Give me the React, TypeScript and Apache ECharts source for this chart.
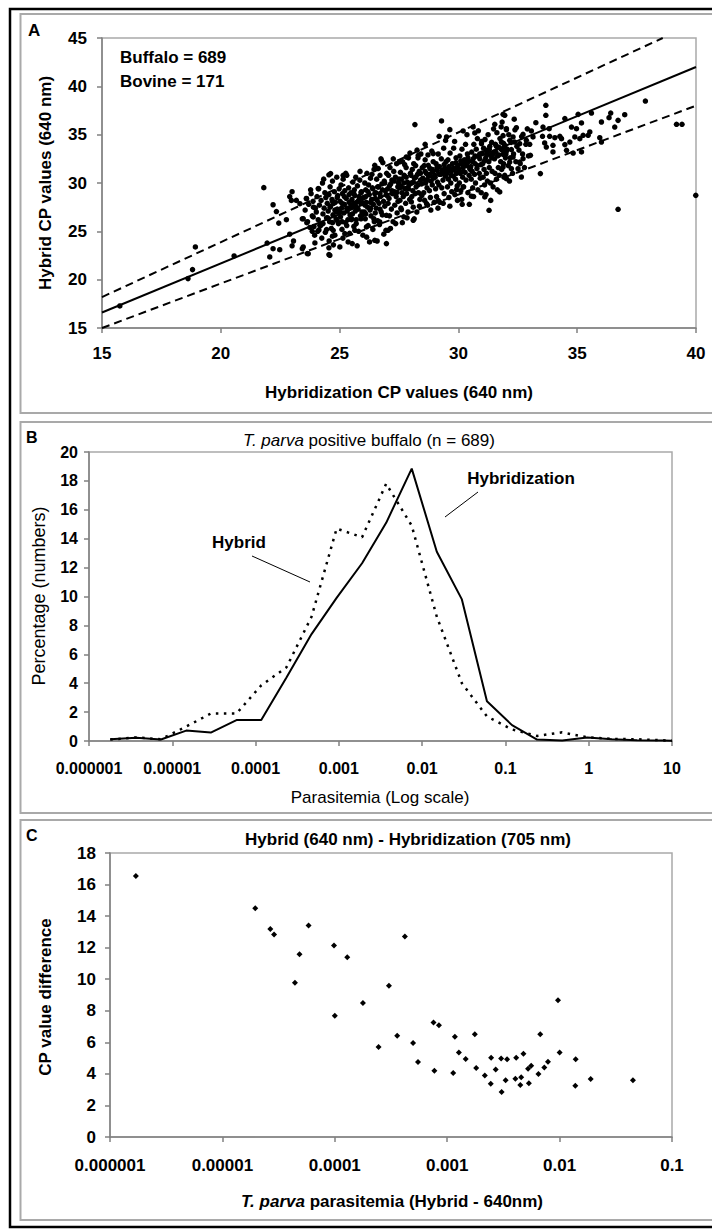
import React, { useEffect, useRef } from "react";
import * as echarts from "echarts";

// ---------- Panel A: Hybrid CP vs Hybridization CP (640 nm) ----------
const aPoints: number[][] = [
  // sparse low end
  [15.75, 17.28], [18.62, 20.11], [18.81, 21.04], [18.93, 23.38], [20.56, 22.45], [21.81, 29.52],
  [21.95, 23.79], [22.06, 22.35], [22.2, 23.2], [22.48, 23.1], [22.2, 27.75], [22.34, 27.05],
  [22.44, 25.85], [22.76, 26.2], [22.9, 28.6], [23.0, 29.1], [22.97, 28.2], [23.18, 28.2],
  [23.0, 23.5], [23.06, 24.0], [22.9, 24.7], [23.43, 23.2], [23.64, 22.7], [23.43, 26.3],
  [23.85, 25.0], [23.92, 25.5], [24.13, 25.15], [24.55, 22.6], [24.55, 23.3], [24.7, 24.5],
  [24.55, 30.85], [23.98, 27.4],
  // sparse around the cluster
  [28.17, 36.04], [29.29, 36.42], [24.62, 30.97], [23.61, 28.38], [23.47, 26.31], [23.47, 23.38],
  [23.68, 22.69], [24.59, 22.52], [23.96, 23.8], [25.01, 23.38], [25.53, 23.73], [26.48, 24.07],
  [26.97, 23.73], [28.1, 26.14], [30.16, 27.8], [31.29, 27.18], [31.74, 29.07], [31.11, 28.56],
  [30.55, 28.63], [29.64, 35.52], [29.19, 34.83], [29.5, 34.76], [30.2, 35.38], [30.62, 35.8],
  [30.69, 35.18], [31.88, 37.11], [31.53, 36.07], [32.02, 35.52], [30.97, 34.07], [31.18, 33.38],
  [30.2, 29.59], [29.92, 29.31], [28.66, 27.87], [29.15, 28.21], [26.69, 25.97], [26.13, 25.45],
  [25.64, 25.11], [25.22, 24.76], [24.73, 25.11], [27.04, 25.11], [27.6, 27.24], [26.97, 26.66],
  [26.44, 26.31], [25.99, 26.76], [25.5, 26.31], [24.45, 25.18], [24.17, 25.62], [23.89, 26.49],
  [28.02, 28.04], [26.76, 32.35], [26.48, 31.83], [27.53, 32.18], [27.81, 32.69], [28.31, 32.87],
  [28.94, 33.04], [28.73, 31.83], [25.15, 30.8], [24.1, 29.42], [23.33, 27.86],
  // high end
  [37.87, 38.48], [39.18, 36.07], [39.41, 36.07], [39.99, 28.72], [36.72, 27.28], [33.45, 30.97],
  [33.68, 38.04], [33.68, 37.0], [31.95, 37.0], [32.02, 35.62], [32.44, 35.72], [33.26, 36.24],
  [34.48, 36.66], [35.04, 37.1], [35.6, 37.24], [36.02, 36.31], [36.34, 36.76], [36.41, 37.24],
  [36.72, 36.48], [37.0, 37.07], [36.58, 35.79], [35.95, 34.69], [36.02, 34.24], [35.18, 33.21],
  [34.83, 33.1], [34.55, 33.38], [34.48, 33.97], [34.69, 34.24], [34.9, 34.76], [35.11, 34.59],
  [35.25, 34.93], [35.46, 34.93], [35.53, 35.28], [34.76, 35.79], [35.18, 36.21], [34.97, 35.62],
  [34.34, 34.59], [34.27, 34.83], [34.06, 34.69], [33.98, 33.9], [33.98, 33.21], [33.7, 33.72],
  [33.63, 34.14], [33.84, 34.83], [33.54, 34.83], [33.82, 35.62], [33.56, 35.79], [33.07, 35.38],
  [33.14, 34.76], [33.0, 34.0], [33.03, 32.86], [32.72, 32.52], [32.65, 30.62], [32.51, 31.48],
  [32.58, 32.17], [32.86, 34.41], [32.72, 35.03], [32.58, 34.07], [32.37, 34.24], [32.3, 34.76],
  [32.16, 34.41], [31.95, 33.72], [32.02, 33.31], [32.23, 33.45], [31.88, 32.97], [32.3, 32.69],
  [32.16, 32.17], [31.88, 31.66], [31.95, 30.79], [32.02, 30.45], [32.23, 31.48], [31.81, 34.24],
  // dense band
  [23.55, 27.2], [23.6, 28.4], [23.65, 26.0], [23.7, 27.8], [23.75, 25.4], [23.8, 28.9], [23.85, 26.6], [23.9, 27.5], [23.95, 24.6], [23.62, 25.9], [23.78, 29.3], [23.88, 28.1],
  [24.02, 27.0], [24.05, 28.6], [24.1, 26.2], [24.12, 29.4], [24.15, 27.7], [24.2, 25.6], [24.22, 28.2], [24.28, 30.0], [24.3, 26.8], [24.35, 27.4], [24.38, 29.0], [24.4, 24.9], [24.42, 28.5], [24.45, 26.4], [24.48, 27.9], [24.08, 25.0], [24.25, 24.3], [24.33, 30.4],
  [24.52, 27.1], [24.55, 28.8], [24.58, 26.0], [24.6, 29.6], [24.62, 27.6], [24.65, 25.3], [24.68, 28.3], [24.7, 30.2], [24.72, 26.7], [24.75, 27.9], [24.78, 29.1], [24.8, 24.6], [24.82, 28.0], [24.85, 26.3], [24.88, 30.6], [24.9, 27.3], [24.92, 28.7], [24.95, 25.8], [24.98, 29.4], [24.56, 24.0], [24.74, 23.6], [24.86, 27.0],
  [25.02, 28.1], [25.04, 26.5], [25.06, 29.8], [25.08, 27.4], [25.1, 25.2], [25.12, 28.9], [25.15, 30.4], [25.18, 26.9], [25.2, 27.8], [25.22, 29.2], [25.25, 25.9], [25.28, 28.4], [25.3, 30.8], [25.32, 27.1], [25.35, 26.2], [25.38, 29.5], [25.4, 28.0], [25.42, 24.8], [25.45, 27.5], [25.48, 29.0], [25.14, 24.3], [25.26, 31.0], [25.36, 23.9], [25.44, 26.7],
  [25.52, 28.3], [25.54, 26.8], [25.56, 30.1], [25.58, 27.6], [25.6, 25.5], [25.62, 29.3], [25.64, 28.7], [25.66, 27.1], [25.68, 30.6], [25.7, 26.2], [25.72, 28.0], [25.75, 29.7], [25.78, 27.3], [25.8, 25.0], [25.82, 28.6], [25.85, 30.3], [25.88, 26.6], [25.9, 27.9], [25.92, 29.1], [25.95, 28.4], [25.98, 24.6], [25.6, 27.9], [25.74, 23.5], [25.86, 31.2], [25.94, 27.0],
  [26.02, 28.5], [26.04, 27.0], [26.06, 30.0], [26.08, 26.3], [26.1, 29.3], [26.12, 28.0], [26.15, 31.0], [26.18, 27.5], [26.2, 25.6], [26.22, 29.8], [26.25, 28.8], [26.28, 27.2], [26.3, 30.5], [26.32, 26.6], [26.35, 28.3], [26.38, 29.5], [26.4, 25.2], [26.42, 27.8], [26.45, 31.4], [26.48, 28.9], [26.14, 24.4], [26.26, 23.9], [26.36, 30.9], [26.46, 26.0], [26.07, 27.7],
  [26.52, 29.0], [26.54, 27.4], [26.56, 30.4], [26.58, 28.2], [26.6, 26.1], [26.62, 31.5], [26.64, 29.6], [26.66, 27.9], [26.68, 25.7], [26.7, 30.8], [26.72, 28.6], [26.75, 27.0], [26.78, 29.9], [26.8, 26.7], [26.82, 32.1], [26.85, 28.1], [26.88, 30.2], [26.9, 27.6], [26.92, 29.2], [26.95, 25.1], [26.98, 31.0], [26.58, 24.0], [26.74, 32.5], [26.86, 24.7], [26.96, 28.8],
  [27.02, 29.4], [27.04, 27.9], [27.06, 30.8], [27.08, 28.4], [27.1, 26.6], [27.12, 31.6], [27.15, 29.9], [27.18, 27.3], [27.2, 30.3], [27.22, 28.9], [27.25, 26.0], [27.28, 31.2], [27.3, 29.1], [27.32, 27.7], [27.35, 30.6], [27.38, 28.6], [27.4, 32.0], [27.42, 26.9], [27.45, 29.6], [27.48, 30.0], [27.14, 25.3], [27.26, 32.5], [27.36, 25.8], [27.46, 28.1],
  [27.52, 29.7], [27.54, 28.2], [27.56, 31.1], [27.58, 27.4], [27.6, 30.4], [27.62, 29.0], [27.65, 32.2], [27.68, 28.6], [27.7, 26.5], [27.72, 30.8], [27.75, 29.4], [27.78, 27.9], [27.8, 31.6], [27.82, 28.9], [27.85, 30.1], [27.88, 27.0], [27.9, 32.6], [27.92, 29.8], [27.95, 28.3], [27.98, 31.0], [27.64, 25.9], [27.84, 26.4], [27.96, 33.1], [27.74, 31.9],
  [28.02, 30.0], [28.04, 28.6], [28.06, 31.4], [28.08, 29.2], [28.1, 27.5], [28.12, 32.0], [28.15, 30.5], [28.18, 28.9], [28.2, 31.8], [28.22, 29.6], [28.25, 27.0], [28.28, 30.9], [28.3, 32.6], [28.32, 29.0], [28.35, 31.2], [28.38, 28.3], [28.4, 30.3], [28.42, 33.0], [28.45, 29.9], [28.48, 31.6], [28.14, 26.3], [28.26, 33.4], [28.36, 27.6], [28.46, 28.7],
  [28.52, 30.4], [28.54, 29.0], [28.56, 31.8], [28.58, 28.2], [28.6, 32.4], [28.62, 30.0], [28.65, 31.0], [28.68, 29.5], [28.7, 27.7], [28.72, 32.9], [28.75, 30.7], [28.78, 29.2], [28.8, 31.5], [28.82, 28.5], [28.85, 30.2], [28.88, 33.3], [28.9, 29.8], [28.92, 31.2], [28.95, 30.5], [28.98, 28.0], [28.6, 34.0], [28.84, 27.2], [28.94, 32.2],
  [29.02, 30.6], [29.04, 29.4], [29.06, 32.0], [29.08, 28.6], [29.1, 31.3], [29.12, 30.1], [29.15, 33.0], [29.18, 29.8], [29.2, 31.7], [29.22, 28.0], [29.25, 30.9], [29.28, 32.5], [29.3, 29.5], [29.32, 31.0], [29.35, 30.3], [29.38, 33.6], [29.4, 28.9], [29.42, 31.5], [29.45, 30.7], [29.48, 32.2], [29.14, 27.4], [29.36, 27.9], [29.46, 34.4],
  [29.52, 31.0], [29.54, 29.6], [29.56, 32.4], [29.58, 30.4], [29.6, 28.5], [29.62, 31.6], [29.65, 33.1], [29.68, 30.0], [29.7, 31.2], [29.72, 29.1], [29.75, 32.0], [29.78, 30.7], [29.8, 33.6], [29.82, 31.4], [29.85, 28.8], [29.88, 30.4], [29.9, 32.6], [29.92, 31.0], [29.95, 29.7], [29.98, 31.8], [29.64, 27.6], [29.84, 34.3], [29.96, 28.2],
  [30.02, 31.3], [30.04, 30.0], [30.06, 32.8], [30.08, 31.0], [30.1, 29.2], [30.12, 32.0], [30.15, 33.5], [30.18, 30.6], [30.2, 31.6], [30.22, 29.6], [30.25, 32.4], [30.28, 31.1], [30.3, 34.0], [30.32, 30.3], [30.35, 31.8], [30.38, 33.0], [30.4, 29.0], [30.42, 32.2], [30.45, 30.8], [30.48, 31.5], [30.14, 28.3], [30.36, 35.0], [30.46, 27.8],
  [30.52, 31.7], [30.54, 30.4], [30.56, 33.2], [30.58, 31.2], [30.6, 29.5], [30.62, 32.5], [30.65, 34.0], [30.68, 30.9], [30.7, 32.0], [30.72, 30.0], [30.75, 33.5], [30.78, 31.5], [30.8, 34.6], [30.82, 29.3], [30.85, 32.8], [30.88, 31.0], [30.9, 33.0], [30.92, 30.5], [30.95, 31.9], [30.98, 34.3], [30.64, 28.6], [30.84, 35.4], [30.96, 29.0],
  [31.02, 32.0], [31.04, 30.6], [31.06, 33.6], [31.08, 31.4], [31.1, 29.8], [31.12, 34.5], [31.15, 32.6], [31.18, 31.0], [31.2, 33.2], [31.22, 30.2], [31.25, 35.0], [31.28, 32.2], [31.3, 31.6], [31.32, 33.8], [31.35, 30.0], [31.38, 32.9], [31.4, 34.2], [31.42, 31.2], [31.45, 33.0], [31.48, 35.6], [31.16, 28.8], [31.36, 28.2], [31.46, 29.6],
  [31.52, 32.5], [31.54, 31.0], [31.56, 34.0], [31.58, 33.2], [31.6, 30.4], [31.62, 35.2], [31.65, 32.8], [31.68, 31.6], [31.7, 33.7], [31.72, 30.8], [31.75, 34.6], [31.78, 32.2], [31.8, 35.8], [31.82, 31.4], [31.85, 33.4], [31.88, 34.9], [31.9, 32.0], [31.92, 30.6], [31.95, 33.9], [31.98, 32.6], [31.64, 29.3], [31.84, 36.3],
  [32.05, 33.5], [32.1, 31.8], [32.12, 35.0], [32.18, 32.6], [32.22, 34.2], [32.28, 31.0], [32.32, 33.0], [32.38, 35.5], [32.42, 32.2], [32.46, 33.8], [32.15, 30.2], [32.35, 36.6],
  [32.55, 33.4], [32.6, 32.0], [32.66, 34.8], [32.7, 33.0], [32.78, 31.6], [32.84, 34.0], [32.9, 35.6], [32.95, 32.8],
  // darkest core of the band
  [24.6, 27.5], [24.7, 28.1], [24.8, 27.2], [24.9, 28.5], [25.0, 27.0], [25.1, 27.9], [25.2, 28.6], [25.3, 27.4], [25.4, 28.8], [25.5, 27.7],
  [25.6, 28.9], [25.7, 27.5], [25.8, 28.2], [25.9, 29.0], [26.0, 27.9], [26.1, 28.6], [26.2, 29.1], [26.3, 28.0], [26.4, 29.4], [26.5, 28.4],
  [26.6, 29.6], [26.7, 28.9], [26.8, 29.3], [26.9, 30.0], [27.0, 28.7], [27.1, 29.7], [27.2, 29.2], [27.3, 30.2], [27.4, 29.0], [27.5, 30.4],
  [27.6, 29.6], [27.7, 30.0], [27.8, 30.6], [27.9, 29.4], [28.0, 30.8], [28.1, 30.1], [28.2, 30.6], [28.3, 29.8], [28.4, 31.0], [28.5, 30.5],
  [28.6, 31.2], [28.7, 30.3], [28.8, 30.9], [28.9, 31.4], [29.0, 30.8], [29.1, 31.6], [29.2, 30.9], [29.3, 31.3], [29.4, 31.9], [29.5, 31.2],
  [29.6, 31.7], [29.7, 30.8], [29.8, 31.5], [29.9, 32.1], [30.0, 31.5], [30.1, 32.3], [30.2, 31.2], [30.3, 32.0], [30.4, 32.6], [30.5, 31.4],
  [30.6, 32.2], [30.7, 32.8], [30.8, 31.8], [30.9, 32.5], [31.0, 33.1], [31.1, 32.3], [31.2, 32.9], [31.3, 33.5], [31.4, 32.6], [31.5, 33.2],
  [31.6, 33.8], [31.7, 32.9], [31.8, 33.5], [31.9, 34.1], [32.0, 33.0],
  [24.3, 25.8], [24.5, 26.4], [24.7, 25.9], [24.9, 26.1], [25.1, 26.0], [25.3, 25.6], [25.5, 26.2], [25.7, 25.8], [25.9, 26.3], [26.1, 26.8],
  [26.3, 27.4], [26.5, 26.9], [26.7, 27.3],
];
const aFitLine = [[15, 16.6], [40, 42]];
const aUpperLimit = [[15, 18.2], [38.6, 45]];
const aLowerLimit = [[15, 15], [40, 38]];

// ---------- Panel B: distribution of parasitemia ----------
const bParasitemia = [0.0000018, 0.0000037, 0.0000073, 0.0000147, 0.000029, 0.000059, 0.000117, 0.000235,
  0.00047, 0.00094, 0.0019, 0.0037, 0.0075, 0.015, 0.03, 0.06, 0.12, 0.24, 0.48, 0.96, 1.9, 3.8, 7.7, 10];
const bHybridization = [0.12, 0.22, 0.1, 0.72, 0.58, 1.45, 1.45, 4.4, 7.4, 9.9, 12.3, 15.1, 18.85, 13.1,
  9.8, 2.75, 1.1, 0.1, 0.03, 0.25, 0.12, 0.05, 0.03, 0.02];
const bHybrid = [0.1, 0.25, 0.12, 1.0, 1.9, 1.9, 3.85, 5.1, 8.6, 14.7, 14.1, 17.8, 14.9, 8.6,
  4.0, 1.7, 0.8, 0.35, 0.6, 0.25, 0.15, 0.12, 0.05, 0.02];
const bCutoff = 0.00001;
const bTickLabels = ["0.000001", "0.00001", "0.0001", "0.001", "0.01", "0.1", "1", "10"];

// ---------- Panel C: CP difference vs parasitemia ----------
const cParasitemia = [0.0000017, 0.0000196, 0.0000267, 0.0000288, 0.0000584, 0.0000485, 0.0000442, 0.0000984,
  0.000129, 0.0001, 0.00042, 0.000303, 0.000178, 0.000359, 0.000245, 0.000497, 0.00055, 0.000755, 0.000844,
  0.000769, 0.00117, 0.00113, 0.00127, 0.00176, 0.00146, 0.00181, 0.00216, 0.00246, 0.00244, 0.0027, 0.00302,
  0.00341, 0.00305, 0.00331, 0.00411, 0.00404, 0.00455, 0.00447, 0.00477, 0.00533, 0.00524, 0.00559, 0.00648,
  0.00673, 0.00731, 0.00788, 0.00968, 0.01, 0.0139, 0.0138, 0.0189, 0.0449];
const cDifference = [16.54, 14.5, 13.19, 12.83, 13.4, 11.58, 9.77, 12.13, 11.39, 7.68, 12.7, 9.58, 8.5, 6.41,
  5.7, 5.95, 4.75, 7.26, 7.09, 4.2, 6.35, 4.05, 5.36, 6.52, 4.94, 4.37, 3.9, 5.02, 3.38, 4.28, 4.98, 4.92,
  2.85, 3.59, 5.02, 3.69, 3.78, 3.29, 5.27, 3.4, 4.32, 4.51, 3.99, 6.52, 4.41, 4.77, 8.67, 5.36, 4.92, 3.25,
  3.67, 3.59];
const cTickLabels = ["0.000001", "0.00001", "0.0001", "0.001", "0.01", "0.1"];

const FONT = "'Liberation Sans', Arial, Helvetica, sans-serif";
const AXIS_GREY = "#808080";
const BORDER_GREY = "#a9a9a9";

function logLabel(labels: string[]) {
  return (v: number) => {
    const i = Math.round(Math.log10(v)) + 6;
    return labels[i] ?? "";
  };
}

function baseAxis(fontSize: number, margin: number) {
  return {
    axisLine: { show: true, lineStyle: { color: AXIS_GREY, width: 1.5 } },
    axisTick: { show: true, inside: false, length: 5, lineStyle: { color: AXIS_GREY, width: 1.5 } },
    splitLine: { show: false },
    minorTick: { show: false },
    axisLabel: { fontFamily: FONT, fontWeight: "bold" as const, fontSize, color: "#000", margin },
  };
}

export default function App() {
  const ref = useRef<HTMLDivElement>(null);
  useEffect(() => {
    if (!ref.current) return;
    const chart = echarts.init(ref.current, undefined, { renderer: "svg" });
    const txt = (x: number, y: number, text: string, size: number, bold: boolean, extra: any = {}) => ({
      type: "text",
      x,
      y,
      ...extra,
      style: {
        text,
        fontFamily: FONT,
        fontSize: size,
        fontWeight: bold ? "bold" : "normal",
        fill: "#000",
        align: extra.align ?? "center",
        verticalAlign: "middle",
        rich: {
          i: { fontStyle: "italic", fontFamily: FONT, fontSize: size, fontWeight: bold ? "bold" : "normal", fill: "#000" },
        },
      },
    });
    const frame = (points: number[][], stroke: string, lineWidth: number) => ({
      type: "polyline",
      shape: { points },
      style: { fill: "none", stroke, lineWidth },
      silent: true,
    });
    const option: any = {
      animation: false,
      backgroundColor: "#fff",
      grid: [
        { left: 102, top: 38, width: 594, height: 290, show: true, borderColor: BORDER_GREY, borderWidth: 1.5, backgroundColor: "transparent" },
        { left: 89, top: 452, width: 583, height: 289, show: true, borderColor: BORDER_GREY, borderWidth: 1.5, backgroundColor: "transparent" },
        { left: 110, top: 853, width: 562, height: 284, show: true, borderColor: BORDER_GREY, borderWidth: 1.5, backgroundColor: "transparent" },
      ],
      xAxis: [
        { type: "value", gridIndex: 0, min: 15, max: 40, interval: 5, ...baseAxis(17, 17) },
        {
          type: "log", gridIndex: 1, logBase: 10, min: 0.000001, max: 10, interval: 1, ...baseAxis(16, 19),
          axisLabel: { ...baseAxis(16, 19).axisLabel, formatter: logLabel(bTickLabels) },
        },
        {
          type: "log", gridIndex: 2, logBase: 10, min: 0.000001, max: 0.1, interval: 1, ...baseAxis(17, 20),
          axisLabel: { ...baseAxis(17, 20).axisLabel, formatter: logLabel(cTickLabels) },
        },
      ],
      yAxis: [
        { type: "value", gridIndex: 0, min: 15, max: 45, interval: 5, ...baseAxis(17, 15) },
        { type: "value", gridIndex: 1, min: 0, max: 20, interval: 2, ...baseAxis(16, 11) },
        { type: "value", gridIndex: 2, min: 0, max: 18, interval: 2, ...baseAxis(17, 14) },
      ],
      series: [
        {
          type: "scatter", xAxisIndex: 0, yAxisIndex: 0, data: aPoints, symbol: "circle", symbolSize: 5.5,
          itemStyle: { color: "#000", opacity: 1 }, clip: false, silent: true,
        },
        {
          type: "line", xAxisIndex: 0, yAxisIndex: 0, data: aFitLine, showSymbol: false, symbol: "none",
          lineStyle: { color: "#000", width: 2 }, silent: true,
        },
        {
          type: "line", xAxisIndex: 0, yAxisIndex: 0, data: aUpperLimit, showSymbol: false, symbol: "none",
          lineStyle: { color: "#000", width: 2, type: [8, 5] }, silent: true,
        },
        {
          type: "line", xAxisIndex: 0, yAxisIndex: 0, data: aLowerLimit, showSymbol: false, symbol: "none",
          lineStyle: { color: "#000", width: 2, type: [8, 5] }, silent: true,
        },
        {
          name: "Hybridization", type: "line", xAxisIndex: 1, yAxisIndex: 1,
          data: bParasitemia.map((x, i) => [x, bHybridization[i]]), showSymbol: false, symbol: "none",
          lineStyle: { color: "#000", width: 2 }, silent: true,
          markLine: {
            silent: true, symbol: ["none", "none"], label: { show: false },
            lineStyle: { color: "#000", width: 2, type: "solid" },
            data: [{ xAxis: bCutoff }],
          },
        },
        {
          name: "Hybrid", type: "line", xAxisIndex: 1, yAxisIndex: 1,
          data: bParasitemia.map((x, i) => [x, bHybrid[i]]), showSymbol: false, symbol: "none",
          lineStyle: { color: "#000", width: 2.5, type: [2.5, 5.5], cap: "butt" }, silent: true,
        },
        {
          type: "scatter", xAxisIndex: 2, yAxisIndex: 2, data: cParasitemia.map((x, i) => [x, cDifference[i]]),
          symbol: "diamond", symbolSize: 6, itemStyle: { color: "#000", opacity: 1 }, silent: true,
        },
      ],
      graphic: [
        // outer frame (left, top, bottom) and panel boxes running off the right edge
        frame([[760, 9], [10, 9], [10, 1227], [760, 1227]], "#000", 2.5),
        frame([[760, 14], [20.5, 14], [20.5, 413], [760, 413]], BORDER_GREY, 2),
        frame([[760, 422], [20.5, 422], [20.5, 813], [760, 813]], BORDER_GREY, 2),
        frame([[760, 820], [20.5, 820], [20.5, 1220], [760, 1220]], BORDER_GREY, 2),
        // panel A texts
        txt(28, 30, "A", 17, true, { align: "left" }),
        txt(120, 57, "Buffalo = 689", 17, true, { align: "left" }),
        txt(120, 81, "Bovine = 171", 17, true, { align: "left" }),
        txt(399, 392, "Hybridization CP values (640 nm)", 17, true),
        txt(45, 183, "Hybrid CP values (640 nm)", 17, true, { rotation: Math.PI / 2 }),
        // panel B texts
        txt(26, 437, "B", 16, true, { align: "left" }),
        txt(369, 440, "{i|T. parva} positive buffalo (n = 689)", 17, false),
        txt(380, 797, "Parasitemia (Log scale)", 17, false),
        txt(39, 596, "Percentage (numbers)", 18, false, { rotation: Math.PI / 2 }),
        txt(239, 542, "Hybrid", 17, true),
        txt(521, 478, "Hybridization", 17, true),
        { type: "line", shape: { x1: 252, y1: 556, x2: 310, y2: 582 }, style: { stroke: "#000", lineWidth: 1 }, silent: true },
        { type: "line", shape: { x1: 478, y1: 492, x2: 445, y2: 517 }, style: { stroke: "#000", lineWidth: 1 }, silent: true },
        // panel C texts
        txt(26, 835, "C", 16, true, { align: "left" }),
        txt(408, 839, "Hybrid (640 nm) - Hybridization (705 nm)", 17, true),
        txt(45, 997, "CP value difference", 17, true, { rotation: Math.PI / 2 }),
        txt(392, 1201, "{i|T. parva} parasitemia (Hybrid - 640nm)", 17, true),
      ],
    };
    chart.setOption(option);
    return () => chart.dispose();
  }, []);
  return (
    <div
      ref={ref}
      style={{ position: "absolute", left: 0, top: 0, width: 712, height: 1230, background: "#fff" }}
    />
  );
}
